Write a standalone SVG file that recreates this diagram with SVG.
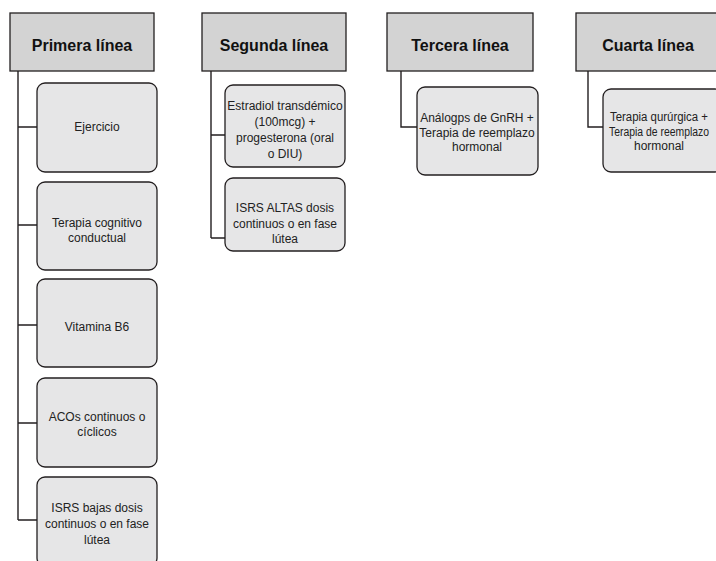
<svg xmlns="http://www.w3.org/2000/svg" width="716" height="561" viewBox="0 0 716 561">
<style>
.hdr{fill:#d3d3d3;stroke:#231f20;stroke-width:1.3}
.box{fill:#e6e6e7;stroke:#231f20;stroke-width:1.3}
.ht{font-family:"Liberation Sans",Arial,sans-serif;font-size:16px;font-weight:bold;fill:#111;text-anchor:middle}
.bt{font-family:"Liberation Sans",Arial,sans-serif;font-size:12px;fill:#222;text-anchor:middle}
.con{fill:none;stroke:#231f20;stroke-width:1.4}
</style>
<rect width="716" height="561" fill="#ffffff"/>
<g id="connectors">
<path class="con" d="M18 71V520M18 127H37M18 225H37M18 325H37M18 423H37M18 520H37"/>
<path class="con" d="M211 71V238M211 135H225M211 238H225"/>
<path class="con" d="M401 71V127H417"/>
<path class="con" d="M588 71V127H603"/>
</g>
<g id="h1"><rect class="hdr" x="10" y="13" width="144" height="58"/><text class="ht" x="82" y="51">Primera línea</text></g>
<g id="h2"><rect class="hdr" x="202" y="13" width="144" height="58"/><text class="ht" x="274" y="51">Segunda línea</text></g>
<g id="h3"><rect class="hdr" x="387" y="13" width="146" height="58"/><text class="ht" x="460" y="51">Tercera línea</text></g>
<g id="h4"><rect class="hdr" x="576" y="13" width="146" height="58"/><text class="ht" x="648" y="51">Cuarta línea</text></g>
<g id="n1"><rect class="box" x="37" y="83" width="120" height="89" rx="8"/><text class="bt" x="97" y="131">Ejercicio</text></g>
<g id="n2"><rect class="box" x="37" y="182" width="120" height="88" rx="8"/><text class="bt" x="97" y="226.5">Terapia cognitivo</text><text class="bt" x="97" y="241.5">conductual</text></g>
<g id="n3"><rect class="box" x="37" y="279" width="120" height="88" rx="8"/><text class="bt" x="97" y="331">Vitamina B6</text></g>
<g id="n4"><rect class="box" x="37" y="378" width="120" height="89" rx="8"/><text class="bt" x="97" y="421">ACOs continuos o</text><text class="bt" x="97" y="436">cíclicos</text></g>
<g id="n5"><rect class="box" x="37" y="477" width="120" height="89" rx="8"/><text class="bt" x="97" y="512">ISRS bajas dosis</text><text class="bt" x="97" y="528">continuos o en fase</text><text class="bt" x="97" y="544">lútea</text></g>
<g id="n6"><rect class="box" x="225" y="85" width="120" height="82" rx="8"/><text class="bt" x="285" y="110">Estradiol transdémico</text><text class="bt" x="285" y="126">(100mcg) +</text><text class="bt" x="285" y="142">progesterona (oral</text><text class="bt" x="285" y="158">o DIU)</text></g>
<g id="n7"><rect class="box" x="225" y="178" width="120" height="73" rx="8"/><text class="bt" x="285" y="212">ISRS ALTAS dosis</text><text class="bt" x="285" y="228">continuos o en fase</text><text class="bt" x="285" y="243">lútea</text></g>
<g id="n8"><rect class="box" x="417" y="87" width="121" height="88" rx="8"/><text class="bt" x="477" y="122">Análogps de GnRH +</text><text class="bt" x="477" y="136.5">Terapia de reemplazo</text><text class="bt" x="477" y="151">hormonal</text></g>
<g id="n9"><rect class="box" x="603" y="89" width="120" height="83" rx="8"/><text class="bt" x="659" y="121" textLength="98" lengthAdjust="spacingAndGlyphs">Terapia qurúrgica +</text><text class="bt" x="659" y="135.5" textLength="100" lengthAdjust="spacingAndGlyphs">Terapia de reemplazo</text><text class="bt" x="659" y="150">hormonal</text></g>
</svg>
